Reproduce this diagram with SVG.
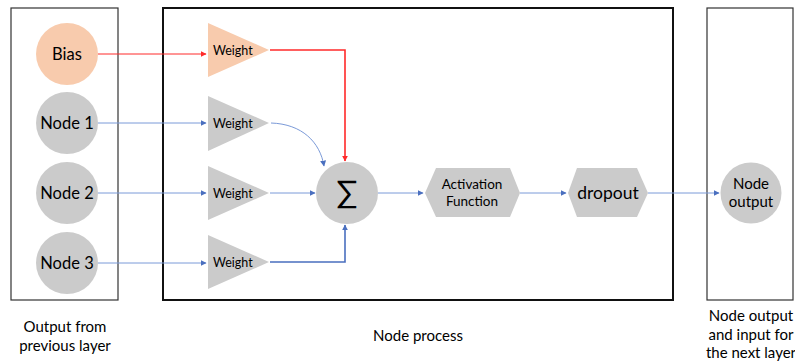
<svg xmlns="http://www.w3.org/2000/svg" width="795" height="363" viewBox="0 0 795 363">
<defs>
<style>
text{font-family:Lato,"Open Sans","Liberation Sans",sans-serif;fill:#000;text-anchor:middle}
.gray{fill:#cbcbcb}
.peach{fill:#f8cbad}
.blue{stroke:#7b9ad8;stroke-width:1;fill:none}
.blueD{stroke:#4a6fbf;stroke-width:1.6;fill:none}
.red{stroke:#ff2a2a;stroke-width:1;fill:none}
.redD{stroke:#ff2a2a;stroke-width:1.6;fill:none}
.w{font-size:12.5px;text-anchor:start}
.lbl{font-size:15px}
.nd{font-size:16.5px}
</style>
<marker id="ab" viewBox="0 0 10 10" refX="9" refY="5" markerWidth="6" markerHeight="6" markerUnits="userSpaceOnUse" orient="auto"><path d="M0,0L10,5L0,10z" fill="#4a6fbf"/></marker>
<marker id="ar" viewBox="0 0 10 10" refX="9" refY="5" markerWidth="6" markerHeight="6" markerUnits="userSpaceOnUse" orient="auto"><path d="M0,0L10,5L0,10z" fill="#ff2a2a"/></marker>
</defs>
<rect width="795" height="363" fill="#fff"/>
<g id="layer-prev"><rect x="11" y="8" width="107" height="292" fill="none" stroke="#333" stroke-width="1.2"/></g>
<g id="layer-process"><rect x="163" y="8" width="510" height="292" fill="none" stroke="#111" stroke-width="2"/></g>
<g id="layer-next"><rect x="707" y="8" width="86" height="292" fill="none" stroke="#333" stroke-width="1.2"/></g>

<g id="connectors">
<path class="red" d="M98,54H206" marker-end="url(#ar)"/>
<path class="redD" d="M270,50H345V161" marker-end="url(#ar)"/>
<path class="blue" d="M98,123H206" marker-end="url(#ab)"/>
<path class="blue" d="M98,193H206" marker-end="url(#ab)"/>
<path class="blue" d="M98,263H206" marker-end="url(#ab)"/>
<path class="blue" d="M271,123C302,124 320,142 324,166" marker-end="url(#ab)"/>
<path class="blue" d="M270,193H315" marker-end="url(#ab)"/>
<path class="blueD" d="M270,262H345V225" marker-end="url(#ab)"/>
<path class="blue" d="M378,193H423" marker-end="url(#ab)"/>
<path class="blue" d="M520,193H566" marker-end="url(#ab)"/>
<path class="blue" d="M648,193H719" marker-end="url(#ab)"/>
</g>

<g id="bias"><circle class="peach" cx="67" cy="54" r="31"/><text x="67" y="60" class="nd">Bias</text></g>
<g id="node1"><circle class="gray" cx="67" cy="123" r="31"/><text x="67" y="129" class="nd">Node 1</text></g>
<g id="node2"><circle class="gray" cx="67" cy="193" r="31"/><text x="67" y="199" class="nd">Node 2</text></g>
<g id="node3"><circle class="gray" cx="67" cy="263" r="31"/><text x="67" y="269" class="nd">Node 3</text></g>

<g id="weight-bias"><path class="peach" d="M208,23L269,50L208,77z"/><text x="213" y="55" class="w">Weight</text></g>
<g id="weight1"><path class="gray" d="M208,96L269,123L208,151z"/><text x="213" y="128" class="w">Weight</text></g>
<g id="weight2"><path class="gray" d="M208,166L269,193L208,220z"/><text x="213" y="198" class="w">Weight</text></g>
<g id="weight3"><path class="gray" d="M208,235L269,262L208,289z"/><text x="213" y="267" class="w">Weight</text></g>

<g id="sum"><circle class="gray" cx="347" cy="193" r="31"/><text x="347" y="203" font-size="31">∑</text></g>
<g id="activation"><path class="gray" d="M425,193L436,168H510L520,193L510,217H436z"/><text x="472" y="189" font-size="13.5">Activation</text><text x="472" y="206" font-size="13.5">Function</text></g>
<g id="dropout"><path class="gray" d="M568,193L577,168H637L648,193L637,217H577z"/><text x="608" y="199" font-size="17.5">dropout</text></g>
<g id="node-output"><circle class="gray" cx="751" cy="193" r="30.5"/><text x="751" y="189" font-size="15">Node</text><text x="751" y="207" font-size="15">output</text></g>

<g id="labels">
<text x="65" y="332" class="lbl">Output from</text>
<text x="65" y="351" class="lbl">previous layer</text>
<text x="418" y="341" class="lbl">Node process</text>
<text x="751" y="321" class="lbl">Node output</text>
<text x="751" y="340" class="lbl">and input for</text>
<text x="751" y="358" class="lbl">the next layer</text>
</g>
</svg>
